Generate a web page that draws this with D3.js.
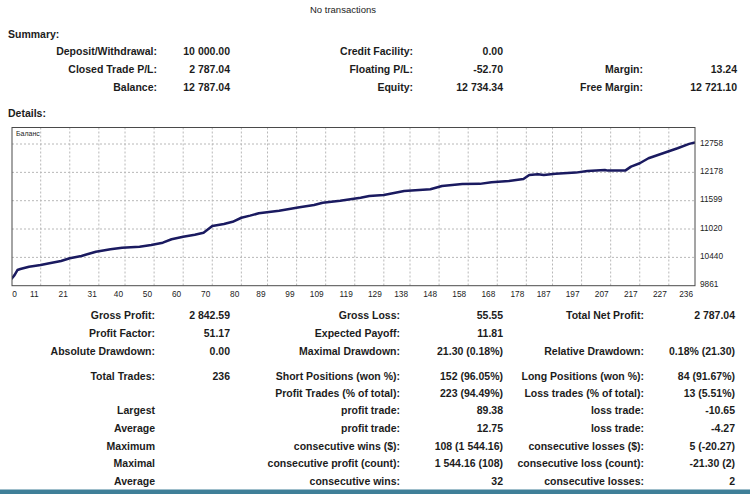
<!DOCTYPE html>
<html><head><meta charset="utf-8">
<script src="https://cdn.jsdelivr.net/npm/d3@7/dist/d3.min.js"></script>
<style>
html,body{margin:0;padding:0;background:#fff;}
svg{display:block;}
text{font-family:"Liberation Sans",Arial,sans-serif;fill:#1c1c1c;}
</style></head>
<body>
<svg id="c" width="750" height="494"></svg>
<script>
// ---- data ----
const tradeIdx = [0,1,2,3,4,7,11,14,18,21,25,27,30,35,39,45,49,53,56,60,64,67,69,70,74,77,80,83,86,93,100,105,108,114,121,124,129,136,145,149,156,162,166,172,177,179,182,184,188,195,199,205,206,212,214,217,220,225,230,234,236];
const balance  = [10000,10005,10078,10181,10202,10249,10284,10319,10366,10421,10468,10503,10556,10605,10638,10658,10693,10740,10810,10863,10904,10945,11035,11082,11123,11168,11250,11293,11341,11395,11464,11511,11558,11599,11661,11695,11716,11798,11833,11900,11941,11943,11975,12002,12043,12125,12139,12125,12152,12173,12207,12228,12214,12214,12296,12364,12467,12569,12671,12760,12787.04];
const xTicks = [0,11,21,31,40,50,60,70,80,89,99,109,119,129,138,148,158,168,178,187,197,207,217,227,236];
const yTicks = [9861,10440,11020,11599,12178,12758];
const chartLabel = "Баланс";

const summaryRows = [
  ["Deposit/Withdrawal:","10 000.00","Credit Facility:","0.00","",""],
  ["Closed Trade P/L:","2 787.04","Floating P/L:","-52.70","Margin:","13.24"],
  ["Balance:","12 787.04","Equity:","12 734.34","Free Margin:","12 721.10"]
];
const detailRows = [
  ["Gross Profit:","2 842.59","Gross Loss:","55.55","Total Net Profit:","2 787.04"],
  ["Profit Factor:","51.17","Expected Payoff:","11.81","",""],
  ["Absolute Drawdown:","0.00","Maximal Drawdown:","21.30 (0.18%)","Relative Drawdown:","0.18% (21.30)"],
  ["Total Trades:","236","Short Positions (won %):","152 (96.05%)","Long Positions (won %):","84 (91.67%)"],
  ["","","Profit Trades (% of total):","223 (94.49%)","Loss trades (% of total):","13 (5.51%)"],
  ["Largest","","profit trade:","89.38","loss trade:","-10.65"],
  ["Average","","profit trade:","12.75","loss trade:","-4.27"],
  ["Maximum","","consecutive wins ($):","108 (1 544.16)","consecutive losses ($):","5 (-20.27)"],
  ["Maximal","","consecutive profit (count):","1 544.16 (108)","consecutive loss (count):","-21.30 (2)"],
  ["Average","","consecutive wins:","32","consecutive losses:","2"]
];

// ---- layout ----
const svg = d3.select("#c");
const box = {l:12, r:695, t:127.5, b:285.7};
const summaryY = [51.5, 69.3, 87.3];
const summaryX = [157, 230, 413, 503, 643, 737];
const detailY = [315, 333, 351, 376, 393, 410, 428, 446, 463, 481];
const detailX = [155, 230, 400, 503, 644, 735];

svg.append("rect").attr("width",750).attr("height",494).attr("fill","#fff");

svg.append("text").attr("x",343).attr("y",12.5).attr("text-anchor","middle")
  .attr("font-size",9.5).text("No transactions");
svg.append("text").attr("x",8).attr("y",37.5).attr("font-size",10.5).attr("font-weight","bold").text("Summary:");
svg.append("text").attr("x",8).attr("y",116.5).attr("font-size",10.5).attr("font-weight","bold").text("Details:");

function drawRows(rows, ys, xs){
  rows.forEach((row,ri)=>{
    row.forEach((t,ci)=>{
      if(!t) return;
      svg.append("text").attr("x",xs[ci]).attr("y",ys[ri]+3.8)
        .attr("text-anchor","end").attr("font-size",10.5).attr("font-weight","bold").text(t);
    });
  });
}
drawRows(summaryRows, summaryY, summaryX);
drawRows(detailRows, detailY, detailX);

// ---- chart ----
const x = d3.scaleLinear().domain([0,236]).range([8.7, box.r]);
const y = d3.scaleLinear().domain([9861,12758]).range([box.b, 144]);

const g = svg.append("g");
// grid
g.selectAll(".hg").data(yTicks.filter(v=>v!==9861)).join("line")
  .attr("x1",box.l).attr("x2",box.r).attr("y1",d=>y(d)).attr("y2",d=>y(d))
  .attr("stroke","#b8b8b8").attr("stroke-width",1).attr("stroke-dasharray","2,2");
g.selectAll(".vg").data(xTicks.filter(v=>x(v)>box.l+2 && x(v)<box.r-2)).join("line")
  .attr("x1",d=>x(d)).attr("x2",d=>x(d)).attr("y1",box.t).attr("y2",box.b)
  .attr("stroke","#b8b8b8").attr("stroke-width",1).attr("stroke-dasharray","2,2");

// clip
svg.append("clipPath").attr("id","clip").append("rect")
  .attr("x",box.l).attr("y",box.t).attr("width",box.r-box.l).attr("height",box.b-box.t);

const pts = tradeIdx.map((t,i)=>[t,balance[i]]);
g.append("path").datum(pts).attr("clip-path","url(#clip)")
  .attr("fill","none").attr("stroke","#1a1a60").attr("stroke-width",2.5)
  .attr("stroke-linejoin","round")
  .attr("d", d3.line().x(d=>x(d[0])).y(d=>y(d[1])));

// border
g.append("rect").attr("x",box.l).attr("y",box.t).attr("width",box.r-box.l).attr("height",box.b-box.t)
  .attr("fill","none").attr("stroke","#4a4a4a").attr("stroke-width",1);

// axes labels
g.selectAll(".xt").data(xTicks).join("text")
  .attr("x",d=> d===0 ? box.l+2.5 : x(d)-2)
  .attr("y",296.5)
  .attr("text-anchor",d=> d===0 ? "middle" : "end")
  .attr("font-size",8.3).attr("fill","#333").text(d=>d);
g.selectAll(".yt").data(yTicks).join("text")
  .attr("x",box.r+5).attr("y",d=>y(d)+1.5)
  .attr("font-size",8.3).attr("fill","#333").text(d=>d);
g.append("text").attr("x",box.l+4).attr("y",box.t+8.5).attr("font-size",7).attr("fill","#444").text(chartLabel);

// bottom strip
svg.append("rect").attr("x",0).attr("y",489.5).attr("width",750).attr("height",5).attr("fill","#3f7f98");
</script>
</body></html>
